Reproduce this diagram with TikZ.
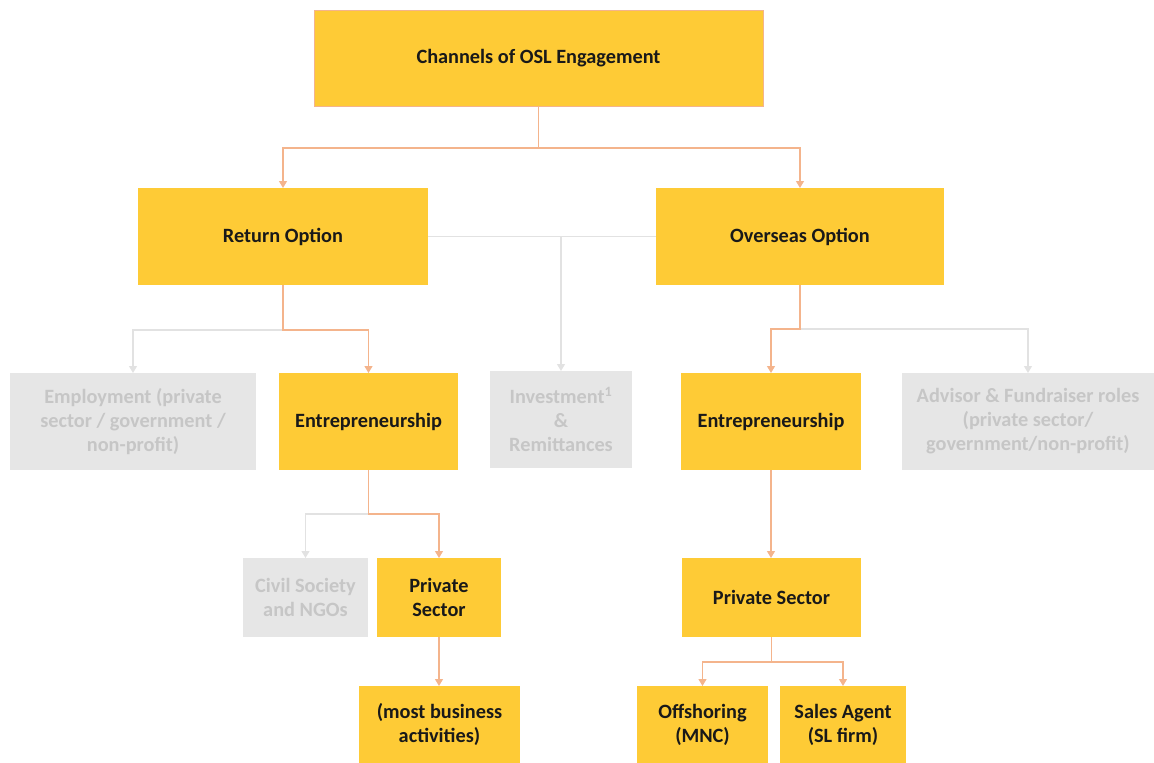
\documentclass[tikz,border=0pt]{standalone}
\usepackage{fontspec}
\setmainfont{Carlito}
\usetikzlibrary{arrows.meta}
\definecolor{ybox}{HTML}{FECB36}
\definecolor{oline}{HTML}{F4B48C}
\definecolor{gfill}{HTML}{E6E6E6}
\definecolor{gtext}{HTML}{C6C6C6}
\definecolor{gline}{HTML}{E2E2E2}
\tikzset{
  base/.style={rectangle, inner sep=0pt, outer sep=0pt, align=center,
    font=\fontsize{20.3}{24}\selectfont\bfseries},
  yb/.style={base, fill=ybox, text=black!90},
  gb/.style={base, fill=gfill, text=gtext},
  otip/.style={-{Triangle[width=8pt,length=7pt]}},
  oconn/.style={draw=oline, line width=1.2pt},
  gconn/.style={draw=gline, line width=1.2pt},
}
\begin{document}
\begin{tikzpicture}[x=1pt,y=1pt]
\useasboundingbox (0,0) rectangle (1154,-763);
\node[yb, draw=oline, line width=0.8pt, minimum width=449pt, minimum height=96pt] (top) at (538.5,-58) {\raisebox{-2pt}{Channels of OSL Engagement}};
\node[yb, minimum width=290pt, minimum height=97pt] (ret) at (283,-236.5) {\raisebox{-2pt}{Return Option}};
\node[yb, minimum width=288pt, minimum height=97pt] (ovs) at (800,-236.5) {\raisebox{-2pt}{Overseas Option}};
\node[gb, minimum width=246pt, minimum height=97pt] (emp) at (133,-421.5) {Employment (private\\sector / government /\\non-profit)};
\node[yb, minimum width=179pt, minimum height=97pt] (entL) at (368.5,-421.5) {\raisebox{-2pt}{Entrepreneurship}};
\node[gb, minimum width=142pt, minimum height=97pt] (inv) at (561,-419.5) {Investment\textsuperscript{1}\\\&\\Remittances};
\node[yb, minimum width=180pt, minimum height=97pt] (entR) at (771,-421.5) {\raisebox{-2pt}{Entrepreneurship}};
\node[gb, minimum width=252pt, minimum height=97pt] (adv) at (1028,-421.5) {Advisor \& Fundraiser roles\\(private sector/\\government/non-profit)};
\node[gb, minimum width=125pt, minimum height=79pt] (civ) at (305.5,-597.5) {Civil Society\\and NGOs};
\node[yb, minimum width=124pt, minimum height=79pt] (psL) at (439,-597.5) {Private\\Sector};
\node[yb, minimum width=161pt, minimum height=77pt] (mba) at (439.5,-724.5) {(most business\\activities)};
\node[yb, minimum width=179pt, minimum height=79pt] (psR) at (771.5,-597.5) {Private Sector};
\node[yb, minimum width=131pt, minimum height=77pt] (off) at (702.5,-724.5) {Offshoring\\(MNC)};
\node[yb, minimum width=126pt, minimum height=77pt] (sal) at (843,-724.5) {Sales Agent\\(SL firm)};
% top level
\draw[oconn, otip] (top.south) -- ++(0,-42) -| (ret.north);
\draw[oconn, otip] (top.south) -- ++(0,-42) -| (ovs.north);
% gray middle
\draw[gconn] (ret.east) -- (ovs.west);
\draw[gconn, otip] (inv.north |- ret.east) -- (inv.north);
% return branch
\draw[gconn, otip] (ret.south) ++(0,-45) -| (emp.north);
\draw[oconn, otip] (ret.south) -- ++(0,-45) -| (entL.north);
% overseas branch
\draw[gconn, otip] (ovs.south) ++(0,-44) -| (adv.north);
\draw[oconn, otip] (ovs.south) -- ++(0,-44) -| (entR.north);
% entrepreneurship left
\draw[gconn, otip] (entL.south) ++(0,-44) -| (civ.north);
\draw[oconn, otip] (entL.south) -- ++(0,-44) -| (psL.north);
\draw[oconn, otip] (psL.south) -- (psL.south |- mba.north);
% entrepreneurship right
\draw[oconn, otip] (entR.south) -- (entR.south |- psR.north);
\draw[oconn, otip] (psR.south) -- ++(0,-25) -| (off.north);
\draw[oconn, otip] (psR.south) -- ++(0,-25) -| (sal.north);
\end{tikzpicture}
\end{document}
